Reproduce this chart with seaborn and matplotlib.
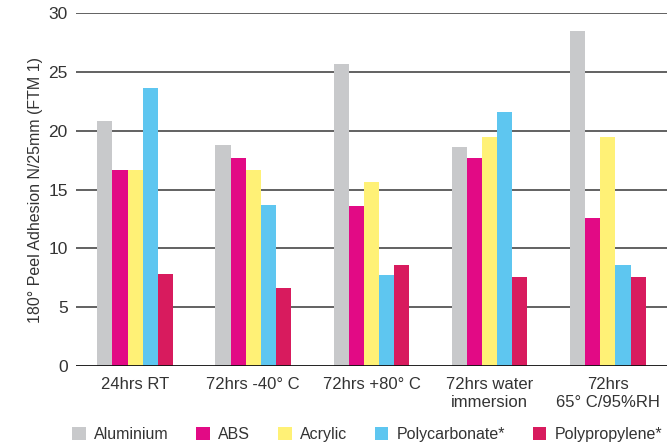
import pandas as pd
import matplotlib.pyplot as plt
import seaborn as sns

# Data
conditions = ["24hrs RT", "72hrs -40° C", "72hrs +80° C", "72hrs water\nimmersion", "72hrs\n65° C/95%RH"]
substrates = ["Aluminium", "ABS", "Acrylic", "Polycarbonate*", "Polypropylene*"]
aluminium = [20.8, 18.8, 25.7, 18.6, 28.5]
abs_vals = [16.65, 17.7, 13.6, 17.7, 12.6]
acrylic = [16.65, 16.65, 15.6, 19.5, 19.5]
polycarbonate = [23.6, 13.7, 7.7, 21.6, 8.6]
polypropylene = [7.8, 6.6, 8.6, 7.6, 7.6]
colors = ["#C8C9CB", "#E20A85", "#FFF176", "#5EC6F0", "#D81B5E"]

series = [aluminium, abs_vals, acrylic, polycarbonate, polypropylene]
rows = []
for name, vals in zip(substrates, series):
    for cond, v in zip(conditions, vals):
        rows.append({"condition": cond, "substrate": name, "value": v})
df = pd.DataFrame(rows)

sns.set_style("white")
plt.rcParams["font.family"] = ["Liberation Sans", "DejaVu Sans"]

fig = plt.figure(figsize=(6.7, 4.45), dpi=100)
ax = fig.add_axes([0.1134, 0.1775, 0.882, 0.7933])

sns.barplot(data=df, x="condition", y="value", hue="substrate", order=conditions,
            hue_order=substrates, palette=colors, width=0.64, gap=0,
            saturation=1, linewidth=0, ax=ax, legend=True)

ax.set_ylim(0, 30)
ax.set_xlim(-0.5, len(conditions) - 0.5)
ax.set_yticks(range(0, 31, 5))
for y in range(5, 31, 5):
    ax.axhline(y, color="#555555", linewidth=1.3, zorder=0)
ax.axhline(0, color="#111111", linewidth=1.3, zorder=3)

for s in ax.spines.values():
    s.set_visible(False)

# tick marks sit between the groups, labels in the middle
ax.set_xticks([i - 0.5 for i in range(len(conditions) + 1)], minor=True)
ax.tick_params(axis="x", which="minor", length=5, width=1, color="#111111", direction="out")
ax.tick_params(axis="x", which="major", length=0, pad=8, labelsize=12, labelcolor="#333333")
ax.tick_params(axis="y", length=0, pad=6, labelsize=12.5, labelcolor="#333333")
ax.set_xlabel("")
ax.set_ylabel("180° Peel Adhesion N/25mm (FTM 1)", fontsize=11.5, color="#333333", labelpad=4)

handles, labels = ax.get_legend_handles_labels()
ax.get_legend().remove()
fig.legend(handles, labels, loc="lower center", bbox_to_anchor=(0.548, -0.025), ncol=5,
           frameon=False, fontsize=11.5, handlelength=0.85, handleheight=0.85,
           handletextpad=0.5, columnspacing=1.75, labelcolor="#333333")

fig.savefig("out.png", dpi=100)
